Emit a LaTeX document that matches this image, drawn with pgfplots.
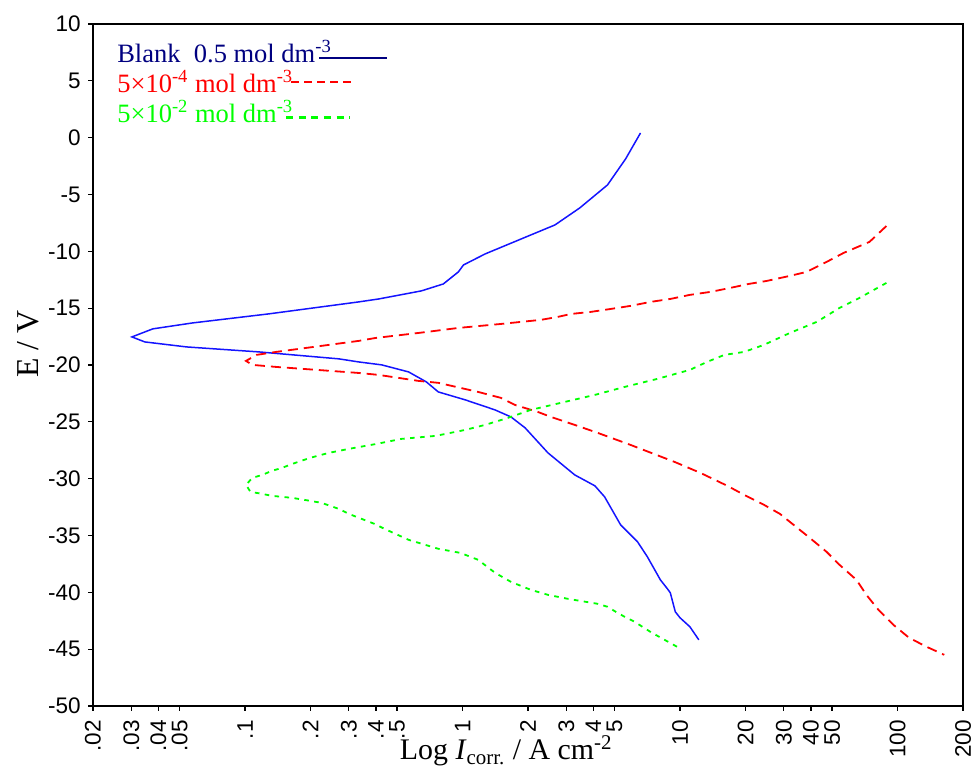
\documentclass[border=0pt]{standalone}
\usepackage{fontspec}
\setmainfont{Liberation Serif}
\newfontfamily\arial{Liberation Sans}
\usepackage{pgfplots}
\pgfplotsset{compat=1.18}
\definecolor{navy}{RGB}{0,0,128}
\definecolor{cblue}{RGB}{20,20,255}
\definecolor{cred}{RGB}{255,0,0}
\definecolor{cgreen}{RGB}{0,255,0}
\begin{document}
\begin{tikzpicture}
\begin{axis}[
 scale only axis, width=435bp, height=341bp,
 xmode=log, xmin=0.02, xmax=200, ymin=-50, ymax=10,
 axis line style={line width=0.9bp},
 xtick={0.02,0.03,0.04,0.05,0.1,0.2,0.3,0.4,0.5,1,2,3,4,5,10,20,30,40,50,100,200},
 xticklabels={.02,.03,.04,.05,.1,.2,.3,.4,.5,1,2,3,4,5,10,20,30,40,50,100,200},
 ytick={-50,-45,-40,-35,-30,-25,-20,-15,-10,-5,0,5,10},
 yticklabels={-50,-45,-40,-35,-30,-25,-20,-15,-10,-5,0,5,10},
 xminorticks=false, yminorticks=false,
 tick align=outside, xtick pos=bottom, ytick pos=left,
 major tick length=2.5bp,
 every tick/.style={line width=0.6bp, black},
 x tick label style={font=\arial\fontsize{11.3}{13}\selectfont, rotate=90, anchor=east, inner ysep=0pt, inner xsep=4.5bp},
 y tick label style={font=\arial\fontsize{11.3}{13}\selectfont, anchor=east, inner sep=0pt, xshift=-3.5bp},
 xlabel={Log \textit{I}\textsubscript{corr.} / A cm\textsuperscript{-2}},
 xlabel style={at={(axis description cs:0.475,-0.079)}, anchor=base, inner sep=0pt, font=\fontsize{15}{18}\selectfont},
 ylabel={E / V},
 ylabel style={at={(axis description cs:-0.0744,0.531)}, anchor=center, inner sep=0pt, font=\fontsize{16}{19}\selectfont},
]
\addplot[cblue, line width=0.75bp] coordinates {
(6.58,0.41)(5.62,-1.87)(4.64,-4.16)(3.46,-6.18)(2.66,-7.68)(2.06,-8.56)(1.27,-10.23)(1.01,-11.2)(0.957,-11.81)(0.816,-12.87)(0.647,-13.48)(0.412,-14.19)(0.333,-14.45)(0.129,-15.5)(0.0574,-16.3)(0.0377,-16.82)(0.0302,-17.53)(0.0346,-17.97)(0.0538,-18.41)(0.116,-18.85)(0.27,-19.46)(0.333,-19.73)(0.425,-19.99)(0.565,-20.61)(0.682,-21.49)(0.774,-22.37)(1.03,-23.07)(1.41,-23.95)(1.67,-24.57)(1.94,-25.53)(2.47,-27.73)(3.28,-29.67)(4.06,-30.63)(4.5,-31.6)(5.33,-34.06)(6.38,-35.56)(7.08,-36.88)(8.12,-38.9)(8.75,-39.69)(9.02,-40.04)(9.51,-41.71)(10.0,-42.24)(11.1,-43.03)(12.2,-44.18)
};
\addplot[cred, line width=0.9bp, dash pattern=on 5bp off 3bp] coordinates {
(88.9,-7.77)(74.3,-9.17)(56.5,-10.14)(47.2,-10.93)(38.2,-11.81)(32.0,-12.16)(25.1,-12.60)(20.7,-12.87)(17.0,-13.22)(13.8,-13.57)(11.1,-13.83)(9.02,-14.19)(7.31,-14.45)(5.92,-14.80)(4.80,-15.07)(3.88,-15.33)(3.15,-15.51)(2.74,-15.77)(2.29,-16.03)(1.50,-16.39)(0.957,-16.74)(0.628,-17.18)(0.399,-17.62)(0.333,-17.88)(0.139,-18.85)(0.113,-19.11)(0.101,-19.64)(0.108,-19.99)(0.139,-20.17)(0.333,-20.70)(0.411,-20.87)(0.628,-21.40)(0.774,-21.57)(1.18,-22.37)(1.50,-22.89)(1.74,-23.51)(2.22,-24.13)(2.55,-24.57)(3.28,-25.27)(4.18,-25.97)(5.92,-27.03)(9.42,-28.52)(12.4,-29.49)(16.5,-30.63)(19.7,-31.42)(24.3,-32.30)(28.8,-33.10)(33.7,-34.15)(39.5,-35.21)(47.2,-36.44)(54.1,-37.58)(64.7,-38.90)(71.9,-40.22)(81.7,-41.54)(95.7,-42.86)(113,-44.0)(136,-44.79)(164,-45.5)
};
\addplot[cgreen, line width=0.9bp, dash pattern=on 2.3bp off 2.7bp] coordinates {
(88.9,-12.78)(66.8,-14.10)(54.1,-14.98)(42.5,-16.21)(32.0,-17.18)(24.3,-18.23)(19.7,-18.85)(16.0,-19.11)(13.3,-19.73)(11.1,-20.43)(7.87,-21.22)(5.56,-21.93)(4.06,-22.63)(2.83,-23.33)(2.06,-23.95)(1.62,-24.65)(1.27,-25.27)(1.03,-25.71)(0.750,-26.24)(0.524,-26.50)(0.403,-26.94)(0.300,-27.38)(0.243,-27.73)(0.199,-28.17)(0.165,-28.70)(0.148,-29.05)(0.133,-29.31)(0.120,-29.67)(0.108,-29.93)(0.101,-30.55)(0.106,-31.16)(0.120,-31.34)(0.133,-31.51)(0.165,-31.69)(0.199,-31.95)(0.225,-32.13)(0.270,-32.66)(0.300,-33.10)(0.344,-33.54)(0.394,-33.98)(0.438,-34.42)(0.565,-35.38)(0.774,-36.17)(0.977,-36.53)(1.18,-37.14)(1.41,-38.28)(1.67,-39.08)(2.06,-39.78)(2.47,-40.22)(3.05,-40.57)(4.18,-41.01)(4.64,-41.27)(5.06,-41.71)(5.56,-42.15)(6.18,-42.59)(7.31,-43.48)(8.03,-43.92)(9.71,-44.8)
};
% legend
\node[anchor=base west, inner sep=0pt, text=navy, font=\fontsize{13.3}{16}\selectfont] at (axis description cs:0.0275,0.943) {Blank\ \ 0.5 mol dm\textsuperscript{-3}};
\draw[navy, line width=1bp] (axis description cs:0.260,0.950) -- (axis description cs:0.3375,0.950);
\node[anchor=base west, inner sep=0pt, text=cred, font=\fontsize{13.3}{16}\selectfont] at (axis description cs:0.0275,0.899) {5×10\textsuperscript{-4} mol dm\textsuperscript{-3}};
\draw[cred, line width=1bp, dash pattern=on 4bp off 2.5bp] (axis description cs:0.2277,0.915) -- (axis description cs:0.302,0.915);
\node[anchor=base west, inner sep=0pt, text=cgreen, font=\fontsize{13.3}{16}\selectfont] at (axis description cs:0.0275,0.855) {5×10\textsuperscript{-2} mol dm\textsuperscript{-3}};
\draw[cgreen, line width=1.1bp, dash pattern=on 3.5bp off 2.8bp] (axis description cs:0.222,0.863) -- (axis description cs:0.295,0.863);
\coordinate (bl) at (rel axis cs:0,0);
\coordinate (tr) at (rel axis cs:1,1);
\end{axis}
\pgfresetboundingbox
\path[use as bounding box] ([xshift=-46.5bp,yshift=-31.5bp]bl) rectangle ([xshift=6bp,yshift=12bp]tr);
\end{tikzpicture}
\end{document}
